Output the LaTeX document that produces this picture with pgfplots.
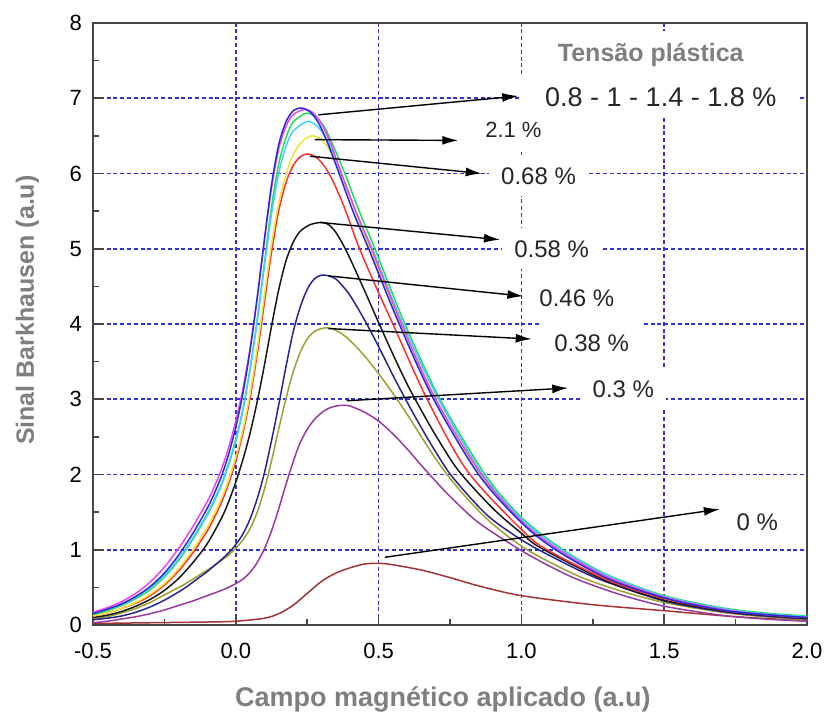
\documentclass[border=0pt]{standalone}
\usepackage{fontspec}
\setmainfont{Liberation Sans}
\usepackage{pgfplots}
\pgfplotsset{compat=1.18}
\usetikzlibrary{arrows.meta}
\definecolor{gridblue}{HTML}{3232D2}
\definecolor{frame}{HTML}{454545}
\definecolor{labgray}{HTML}{7F7F7F}
\definecolor{cBlue}{HTML}{2A2ADE}
\definecolor{cMag}{HTML}{EE44EE}
\definecolor{cGreen}{HTML}{22DD55}
\definecolor{cCyan}{HTML}{44CCFF}
\definecolor{cYellow}{HTML}{EEE633}
\definecolor{cRed}{HTML}{FF3030}
\definecolor{cBlack}{HTML}{181818}
\definecolor{cNavy}{HTML}{262690}
\definecolor{cOlive}{HTML}{9FA030}
\definecolor{cPurple}{HTML}{9A3A9E}
\definecolor{cBrown}{HTML}{A03434}

\begin{document}
\begin{tikzpicture}[
  arr/.style={-{Latex[length=8pt,width=4.5pt]}, line width=0.7pt, black},
  lab/.style={fill=white, inner sep=6pt, font=\fontsize{12}{14}\selectfont, text=black!85},
]
\begin{axis}[
  name=ax, scale only axis, width=357pt, height=301pt,
  xmin=-0.5, xmax=2.0, ymin=0, ymax=8,
  xtick={-0.5,0,0.5,1,1.5,2}, ytick={0,1,...,8},
  minor x tick num=1, minor y tick num=1,
  xtick pos=bottom, ytick pos=left,
  tick align=inside, major tick length=5pt, minor tick length=3pt,
  xmajorgrids, ymajorgrids,
  major grid style={gridblue, dash pattern=on 2pt off 1.4pt, line width=0.8pt},
  axis line style={draw=frame, line width=1.2pt},
  every tick/.style={frame, line width=0.8pt},
  /pgf/number format/assume math mode=true,
  tick label style={font=\fontsize{11}{13}\selectfont, text=black},
  xticklabel style={yshift=-5.5pt, /pgf/number format/.cd, fixed, fixed zerofill, precision=1},
  yticklabel style={xshift=-2pt},
  xlabel={Campo magnético aplicado (a.u)},
  ylabel={Sinal Barkhausen (a.u)},
  xlabel style={font=\bfseries\fontsize{13.5}{15}\selectfont, text=labgray, at={(axis description cs:0.490,-0.123)}, anchor=center},
  ylabel style={font=\bfseries\fontsize{12.5}{15}\selectfont, text=labgray, at={(axis description cs:-0.092,0.523)}, anchor=center},
  every axis plot/.append style={smooth, tension=0.5, line width=0.75pt},
]
% 0 %
\addplot[cBrown] coordinates {(-0.5,0.02) (-0.3,0.03) (-0.1,0.04) (0.0,0.05) (0.1,0.09) (0.15,0.15) (0.2,0.26) (0.25,0.42) (0.3,0.58) (0.35,0.69) (0.4,0.76) (0.45,0.81) (0.5,0.82) (0.55,0.8) (0.65,0.73) (0.75,0.63) (0.85,0.52) (1.0,0.39) (1.25,0.27) (1.5,0.19) (1.75,0.11) (2.0,0.06)};
% 0.3 %
\addplot[cPurple] coordinates {(-0.5,0.03) (-0.45,0.05) (-0.4,0.08) (-0.35,0.11) (-0.3,0.15) (-0.25,0.2) (-0.2,0.26) (-0.175,0.29) (-0.15,0.32) (-0.125,0.355) (-0.1,0.39) (-0.075,0.425) (-0.05,0.46) (-0.025,0.5) (0,0.55) (0.025,0.61) (0.05,0.7) (0.075,0.83) (0.1,1.01) (0.125,1.25) (0.15,1.54) (0.175,1.86) (0.2,2.16) (0.225,2.42) (0.25,2.6) (0.275,2.73) (0.3,2.82) (0.325,2.88) (0.35,2.91) (0.375,2.92) (0.4,2.91) (0.45,2.83) (0.5,2.71) (0.55,2.54) (0.6,2.34) (0.65,2.12) (0.7,1.91) (0.75,1.71) (0.85,1.36) (0.995,1.0) (1.1,0.78) (1.2,0.6) (1.35,0.4) (1.5,0.25) (1.7,0.13) (1.85,0.08) (2.0,0.05)};
% 0.38 %
\addplot[cOlive] coordinates {(-0.5,0.08) (-0.45,0.11) (-0.4,0.16) (-0.35,0.22) (-0.3,0.3) (-0.25,0.4) (-0.2,0.5) (-0.175,0.55) (-0.15,0.61) (-0.125,0.67) (-0.1,0.73) (-0.075,0.79) (-0.05,0.86) (-0.025,0.93) (0,1.02) (0.025,1.13) (0.05,1.28) (0.075,1.5) (0.1,1.8) (0.125,2.18) (0.15,2.6) (0.175,3.0) (0.2,3.35) (0.225,3.62) (0.25,3.8) (0.275,3.9) (0.3,3.94) (0.325,3.95) (0.35,3.92) (0.375,3.86) (0.4,3.78) (0.45,3.58) (0.5,3.34) (0.55,3.08) (0.6,2.8) (0.65,2.5) (0.7,2.21) (0.75,1.95) (0.82,1.64) (0.9,1.34) (1.02,1.0) (1.2,0.65) (1.35,0.45) (1.5,0.3) (1.7,0.17) (1.85,0.11) (2.0,0.07)};
% 0.46 %
\addplot[cNavy] coordinates {(-0.5,0.07) (-0.45,0.09) (-0.4,0.12) (-0.35,0.17) (-0.3,0.24) (-0.25,0.33) (-0.2,0.44) (-0.175,0.5) (-0.15,0.57) (-0.125,0.64) (-0.1,0.71) (-0.075,0.79) (-0.05,0.87) (-0.025,0.96) (0,1.07) (0.025,1.21) (0.05,1.41) (0.075,1.68) (0.1,2.02) (0.125,2.45) (0.15,2.92) (0.175,3.42) (0.2,3.88) (0.225,4.22) (0.25,4.46) (0.275,4.6) (0.3,4.65) (0.325,4.64) (0.35,4.6) (0.375,4.5) (0.4,4.38) (0.45,4.06) (0.5,3.7) (0.55,3.32) (0.6,2.96) (0.65,2.62) (0.7,2.3) (0.76,1.96) (0.88,1.46) (1.0,1.13) (1.05,1.02) (1.2,0.73) (1.3,0.57) (1.5,0.32) (1.7,0.18) (1.85,0.12) (2.0,0.08)};
% 0.58 %
\addplot[cBlack] coordinates {(-0.5,0.1) (-0.45,0.13) (-0.4,0.18) (-0.35,0.25) (-0.3,0.34) (-0.25,0.46) (-0.2,0.62) (-0.15,0.83) (-0.1,1.08) (-0.05,1.42) (-0.025,1.64) (0,1.9) (0.025,2.2) (0.05,2.55) (0.075,2.97) (0.1,3.45) (0.125,3.97) (0.15,4.45) (0.175,4.83) (0.2,5.08) (0.225,5.23) (0.26,5.32) (0.3,5.35) (0.325,5.32) (0.35,5.22) (0.375,5.06) (0.4,4.87) (0.45,4.45) (0.5,4.02) (0.55,3.6) (0.6,3.2) (0.65,2.85) (0.7,2.52) (0.78,2.05) (0.9,1.55) (1.0,1.22) (1.07,1.02) (1.3,0.58) (1.5,0.33) (1.7,0.19) (1.85,0.13) (2.0,0.09)};
% 0.68 %
\addplot[cRed] coordinates {(-0.5,0.12) (-0.45,0.16) (-0.4,0.22) (-0.35,0.29) (-0.3,0.39) (-0.25,0.53) (-0.2,0.72) (-0.15,0.96) (-0.1,1.25) (-0.075,1.43) (-0.05,1.63) (-0.025,1.88) (0,2.18) (0.025,2.55) (0.05,3.02) (0.075,3.6) (0.1,4.28) (0.125,4.95) (0.15,5.5) (0.175,5.87) (0.2,6.1) (0.225,6.22) (0.25,6.26) (0.28,6.22) (0.31,6.1) (0.34,5.9) (0.38,5.55) (0.428,5.05) (0.49,4.5) (0.55,4.0) (0.67,3.0) (0.81,2.05) (1.0,1.27) (1.09,1.0) (1.3,0.6) (1.5,0.35) (1.7,0.2) (1.85,0.14) (2.0,0.1)};
% 2.1 %
\addplot[cYellow] coordinates {(-0.5,0.12) (-0.45,0.16) (-0.4,0.22) (-0.35,0.3) (-0.3,0.41) (-0.25,0.55) (-0.2,0.75) (-0.15,1.0) (-0.1,1.3) (-0.075,1.48) (-0.05,1.68) (-0.025,1.93) (0,2.23) (0.025,2.6) (0.05,3.08) (0.075,3.68) (0.1,4.38) (0.125,5.06) (0.15,5.6) (0.175,5.98) (0.2,6.24) (0.23,6.42) (0.266,6.5) (0.3,6.45) (0.33,6.3) (0.36,6.06) (0.39,5.78) (0.43,5.38) (0.47,5.0) (0.575,4.0) (0.7,3.0) (0.855,2.0) (1.0,1.39) (1.13,1.0) (1.3,0.64) (1.5,0.37) (1.7,0.21) (1.85,0.15) (2.0,0.11)};
% 0.8 - 1 - 1.4 - 1.8 %
\addplot[cGreen] coordinates {(-0.5,0.14) (-0.45,0.19) (-0.4,0.26) (-0.35,0.35) (-0.3,0.47) (-0.25,0.64) (-0.2,0.86) (-0.15,1.14) (-0.1,1.46) (-0.075,1.65) (-0.05,1.86) (-0.025,2.13) (0,2.45) (0.025,2.86) (0.05,3.4) (0.075,4.06) (0.1,4.8) (0.125,5.55) (0.15,6.12) (0.175,6.47) (0.2,6.68) (0.245,6.8) (0.28,6.75) (0.31,6.62) (0.34,6.38) (0.382,6.0) (0.43,5.52) (0.487,5.0) (0.59,4.02) (0.715,3.0) (0.873,2.0) (1.0,1.43) (1.146,1.0) (1.3,0.67) (1.5,0.39) (1.7,0.23) (1.85,0.16) (2.0,0.12)};
\addplot[cCyan] coordinates {(-0.5,0.16) (-0.45,0.21) (-0.4,0.28) (-0.35,0.37) (-0.3,0.5) (-0.25,0.66) (-0.2,0.88) (-0.15,1.16) (-0.1,1.48) (-0.075,1.67) (-0.05,1.88) (-0.025,2.15) (0,2.47) (0.025,2.88) (0.05,3.4) (0.075,4.04) (0.1,4.76) (0.125,5.46) (0.15,6.0) (0.175,6.35) (0.2,6.56) (0.25,6.69) (0.285,6.63) (0.315,6.48) (0.345,6.24) (0.375,5.95) (0.425,5.45) (0.48,4.98) (0.585,4.0) (0.71,3.0) (0.865,2.0) (1.0,1.41) (1.14,1.0) (1.3,0.66) (1.5,0.38) (1.7,0.22) (1.85,0.15) (2.0,0.11)};
\addplot[cMag] coordinates {(-0.5,0.17) (-0.45,0.23) (-0.4,0.31) (-0.35,0.42) (-0.3,0.57) (-0.25,0.77) (-0.2,1.02) (-0.15,1.31) (-0.1,1.64) (-0.075,1.84) (-0.05,2.07) (-0.025,2.36) (0,2.71) (0.025,3.14) (0.05,3.68) (0.075,4.35) (0.1,5.1) (0.125,5.8) (0.15,6.32) (0.175,6.62) (0.2,6.78) (0.24,6.85) (0.27,6.81) (0.3,6.66) (0.33,6.42) (0.37,6.0) (0.42,5.5) (0.475,5.0) (0.58,4.0) (0.7,3.0) (0.86,2.0) (1.0,1.38) (1.13,1.0) (1.3,0.64) (1.5,0.37) (1.7,0.21) (1.85,0.14) (2.0,0.1)};
\addplot[cBlue] coordinates {(-0.5,0.15) (-0.45,0.21) (-0.4,0.28) (-0.35,0.38) (-0.3,0.51) (-0.25,0.69) (-0.2,0.93) (-0.15,1.22) (-0.1,1.55) (-0.075,1.75) (-0.05,1.98) (-0.025,2.27) (0,2.63) (0.025,3.08) (0.05,3.65) (0.075,4.35) (0.1,5.12) (0.125,5.85) (0.15,6.38) (0.175,6.68) (0.2,6.83) (0.23,6.87) (0.26,6.82) (0.29,6.67) (0.32,6.42) (0.36,6.02) (0.41,5.5) (0.465,5.0) (0.57,4.02) (0.69,3.02) (0.85,2.0) (1.0,1.36) (1.12,1.0) (1.3,0.62) (1.5,0.36) (1.7,0.2) (1.85,0.14) (2.0,0.1)};

% labels
\node[lab, inner xsep=12pt, font=\bfseries\fontsize{12.5}{14}\selectfont, text=labgray] at (axis cs:1.453,7.58) {Tensão plástica};
\node[lab, inner xsep=12pt, font=\fontsize{13.5}{15}\selectfont] at (axis cs:1.488,7.02) {0.8 - 1 - 1.4 - 1.8 \%};
\node[lab, font=\fontsize{11}{13}\selectfont] at (axis cs:0.972,6.58) {2.1 \%};
\node[lab] at (axis cs:1.06,5.97) {0.68 \%};
\node[lab] at (axis cs:1.106,5.0) {0.58 \%};
\node[lab] at (axis cs:1.194,4.34) {0.46 \%};
\node[lab] at (axis cs:1.246,3.75) {0.38 \%};
\node[lab] at (axis cs:1.357,3.13) {0.3 \%};
\node[lab] at (axis cs:1.826,1.37) {0 \%};

% arrows
\draw[arr] (axis cs:0.289,6.78) -- (axis cs:0.989,7.03);
\draw[arr] (axis cs:0.277,6.45) -- (axis cs:0.779,6.44);
\draw[arr] (axis cs:0.26,6.23) -- (axis cs:0.861,6.0);
\draw[arr] (axis cs:0.295,5.35) -- (axis cs:0.925,5.12);
\draw[arr] (axis cs:0.324,4.64) -- (axis cs:1.007,4.37);
\draw[arr] (axis cs:0.324,3.94) -- (axis cs:1.036,3.80);
\draw[arr] (axis cs:0.388,2.98) -- (axis cs:1.164,3.15);
\draw[arr] (axis cs:0.522,0.90) -- (axis cs:1.695,1.54);
\end{axis}
\pgfresetboundingbox
\path[use as bounding box] ([shift={(-46.5pt,-44.5pt)}]ax.south west) rectangle ([shift={(365.5pt,312.5pt)}]ax.south west);
\end{tikzpicture}
\end{document}
